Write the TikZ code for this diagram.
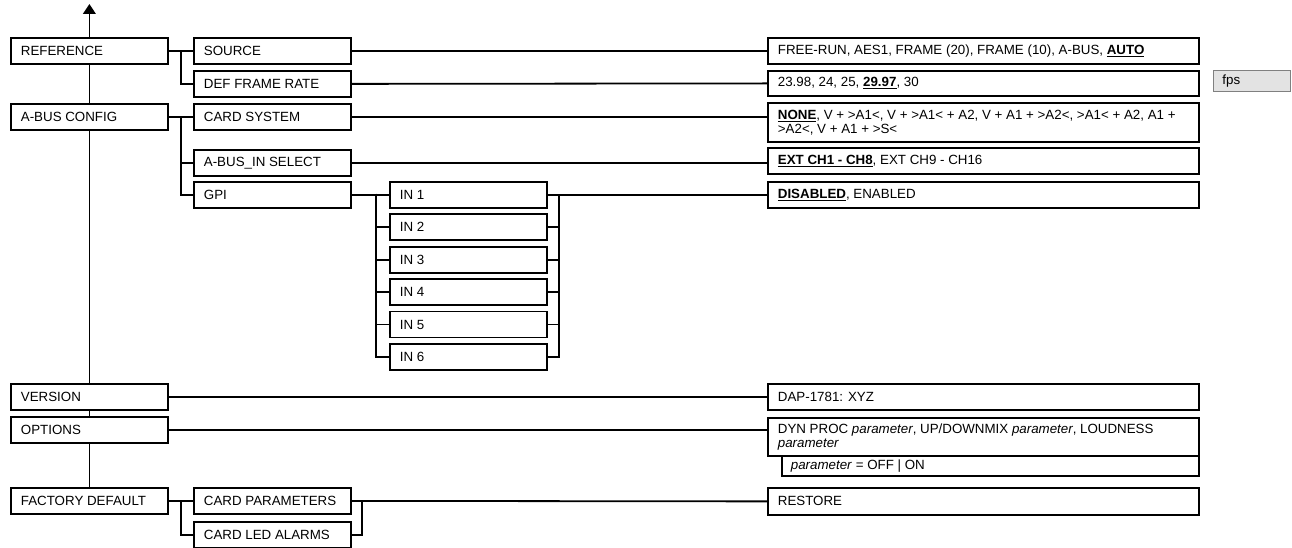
\documentclass[tikz,border=0pt]{standalone}
\usepackage{fontspec}
\setmainfont{Liberation Sans}
\usetikzlibrary{arrows.meta,calc}
\begin{document}
\begin{tikzpicture}[x=0.75pt,y=-0.75pt,
  bx/.style={draw, line width=1.35pt, fill=white, inner xsep=7.5pt, inner ysep=0pt,
    align=flush left, anchor=north west, font=\fontsize{10}{10.4}\selectfont,
    minimum height=19.5pt},
  cw/.style={bx, minimum width=117.75pt, text width=102.75pt},
  vw/.style={bx, minimum width=323.25pt, text width=308.25pt},
  ln/.style={line width=1.35pt},
  grey box/.style={draw=gray, line width=0.6pt, fill=gray!22, inner xsep=6.75pt, inner ysep=0pt,
    align=flush left, anchor=north west, font=\fontsize{10}{10.4}\selectfont,
    minimum width=57.75pt, text width=44.25pt, minimum height=15.75pt}
]
\useasboundingbox (0,0) rectangle (1292,548);

% left column
\node[cw] (ref) at (10,37) {REFERENCE};
\node[cw] (abus) at (10,103) {A-BUS CONFIG};
\node[cw] (ver) at (10,383) {VERSION};
\node[cw] (opt) at (10,416) {OPTIONS};
\node[cw] (fac) at (10,487) {FACTORY DEFAULT};

% second column
\node[cw] (src) at (193,37) {SOURCE};
\node[cw] (dfr) at (193,70) {DEF FRAME RATE};
\node[cw] (cs) at (193,103) {CARD SYSTEM};
\node[cw] (abin) at (193,149) {A-BUS\_IN SELECT};
\node[cw] (gpi) at (193,181) {GPI};
\node[cw] (cp) at (193,487) {CARD PARAMETERS};
\node[cw] (cla) at (193,521) {CARD LED ALARMS};

% GPI inputs
\node[cw] (in1) at (389,181) {IN 1};
\node[cw] (in2) at (389,213.4) {IN 2};
\node[cw] (in3) at (389,245.8) {IN 3};
\node[cw] (in4) at (389,278.2) {IN 4};
\node[cw] (in5) at (389,310.6) {IN 5};
\node[cw] (in6) at (389,343) {IN 6};

% value column
\node[vw] (srcv) at (767,37) {FREE-RUN, AES1, FRAME (20), FRAME (10), A-BUS, \underline{\textbf{AUTO}}};
\node[vw, minimum height=18.75pt] (dfrv) at (767,70) {23.98, 24, 25, \underline{\textbf{29.97}}, 30};
\node[vw, minimum height=29.25pt] (csv) at (767,102) {\mbox{\underline{\textbf{NONE}}, V + >A1<, V + >A1< + A2, V + A1 + >A2<, >A1< + A2, A1 +}\\ >A2<, V + A1 + >S<};
\node[vw] (abinv) at (767,147) {\underline{\textbf{EXT CH1 - CH8}}, EXT CH9 - CH16};
\node[vw] (dis) at (767,181) {\underline{\textbf{DISABLED}}, ENABLED};
\node[vw] (dap) at (767,383) {DAP-1781: XYZ};
\node[vw, minimum height=28.5pt] (dyn) at (767,417) {DYN PROC \textit{parameter}, UP/DOWNMIX \textit{parameter}, LOUDNESS\\ \textit{parameter}};
\node[bx, minimum width=312.75pt, text width=299.25pt, inner xsep=6.75pt, minimum height=15pt] (par) at (781,455) {\textit{parameter} = OFF | ON};
\node[vw, minimum height=20.25pt] (rest) at (767,487) {RESTORE};
\node[grey box] (fps) at (1213,70) {fps};

% trunk
\draw[ln, -{Triangle[width=9.5pt,length=7.5pt]}] (ref.north) -- ++(0,-33);
\draw[ln] (ref.south) -- (abus.north);
\draw[ln] (abus.south) -- (ver.north);
\draw[ln] (ver.south) -- (opt.north);
\draw[ln] (opt.south) -- (fac.north);

% REFERENCE branch
\draw[ln] (ref.east) -- (src.west);
\draw[ln] ($(ref.east)!0.5!(src.west)$) |- (dfr.west);
% A-BUS CONFIG branch
\draw[ln] (abus.east) -- (cs.west);
\draw[ln] ($(abus.east)!0.5!(cs.west)$) |- (abin.west);
\draw[ln] ($(abus.east)!0.5!(cs.west)$) |- (gpi.west);
% GPI branch
\coordinate (gl) at (376,194);
\coordinate (gr) at (559,194);
\draw[ln] (gpi.east) -- (in1.west);
\foreach \n in {in2,in3,in4,in5,in6} {
  \draw[ln] (gl) |- (\n.west);
  \draw[ln] (\n.east) -| (gr);
}
\draw[ln] (in1.east) -- (dis.west);
% FACTORY DEFAULT branch
\coordinate (fr) at (362,500);
\draw[ln] (fac.east) -- (cp.west);
\draw[ln] ($(fac.east)!0.5!(cp.west)$) |- (cla.west);
\draw[ln] (cla.east) -| (fr);
\draw[ln] (cp.east) -- (rest.west);

% value links
\draw[ln] (src.east) -- (srcv.west);
\draw[ln] (dfr.east) -- (dfrv.west);
\draw[ln] (cs.east) -- (cs.east -| csv.west);
\draw[ln] (abin.east) -- (abin.east -| abinv.west);
\draw[ln] (ver.east) -- (dap.west);
\draw[ln] (opt.east) -- (opt.east -| dyn.west);
\end{tikzpicture}
\end{document}
